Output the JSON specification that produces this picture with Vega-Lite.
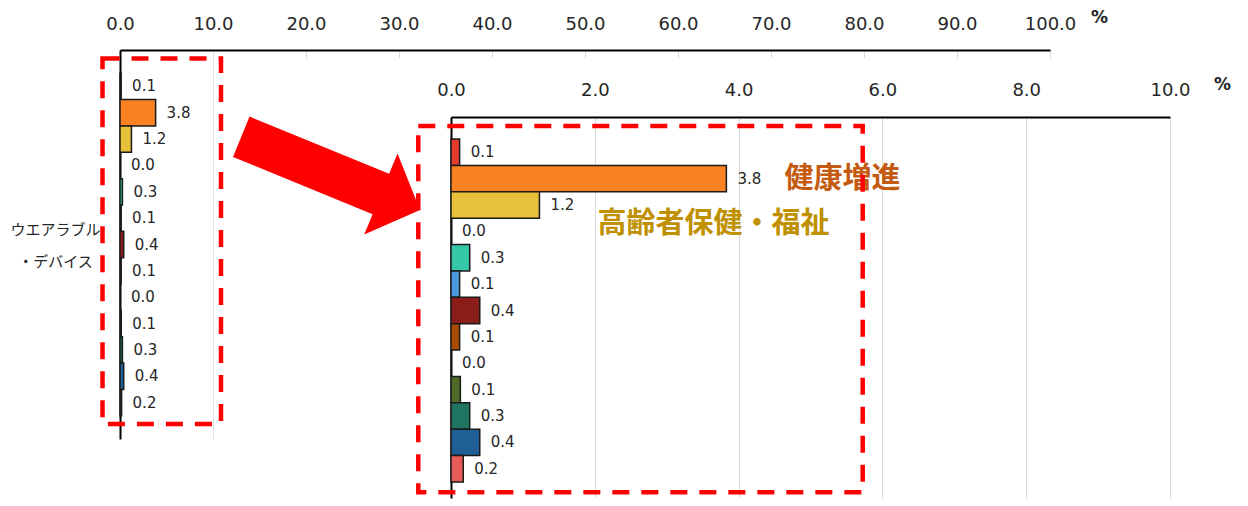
{
  "$schema": "https://vega.github.io/schema/vega-lite/v6.json",
  "width": 1050,
  "height": 448,
  "padding": {"left": 120, "top": 50, "right": 78, "bottom": 8},
  "autosize": {"type": "none"},
  "background": "white",
  "config": {"view": {"stroke": null}, "font": "DejaVu Sans"},
  "datasets": {
    "rows": [
      {"cat": "ウエアラブル・デバイス", "series": "分野01", "value": 0.12},
      {"cat": "ウエアラブル・デバイス", "series": "健康増進", "value": 3.83},
      {"cat": "ウエアラブル・デバイス", "series": "高齢者保健・福祉", "value": 1.23},
      {"cat": "ウエアラブル・デバイス", "series": "分野04", "value": 0.0},
      {"cat": "ウエアラブル・デバイス", "series": "分野05", "value": 0.26},
      {"cat": "ウエアラブル・デバイス", "series": "分野06", "value": 0.12},
      {"cat": "ウエアラブル・デバイス", "series": "分野07", "value": 0.40},
      {"cat": "ウエアラブル・デバイス", "series": "分野08", "value": 0.12},
      {"cat": "ウエアラブル・デバイス", "series": "分野09", "value": 0.0},
      {"cat": "ウエアラブル・デバイス", "series": "分野10", "value": 0.13},
      {"cat": "ウエアラブル・デバイス", "series": "分野11", "value": 0.26},
      {"cat": "ウエアラブル・デバイス", "series": "分野12", "value": 0.40},
      {"cat": "ウエアラブル・デバイス", "series": "分野13", "value": 0.17}
    ],
    "frames": [
      {"panel": "left", "x0": -1.88, "x1": 10.86, "y0": -0.55, "y1": 13.32},
      {"panel": "right", "x0": -0.455, "x1": 5.726, "y0": -0.49, "y1": 13.39}
    ],
    "arrows": [
      {"x": 22.65, "y": 3.81}
    ]
  },
  "layer": [
    {
      "data": {"name": "rows"},
      "mark": {"type": "bar", "stroke": "#1a1a1a", "strokeWidth": 1.5},
      "encoding": {
        "x": {
          "field": "value", "type": "quantitative",
          "scale": {"domain": [0, 100], "range": [0, 930], "nice": false, "zero": true},
          "axis": {
            "orient": "top", "values": [0, 10, 20, 30, 40, 50, 60, 70, 80, 90, 100], "format": ".1f",
            "labelFontSize": 18, "labelColor": "#262626", "labelPadding": 17,
            "labelFlush": false, "labelOverlap": false,
            "ticks": false, "tickSize": 0,
            "domainColor": "#000000", "domainWidth": 2,
            "grid": true, "gridColor": "#D9D9D9", "gridWidth": 1,
            "gridDash": {"condition": {"test": "datum.value > 10", "value": [8, 2000]}, "value": [1, 0]},
            "title": "%", "titleX": 979, "titleY": -33, "titleAngle": 0,
            "titleAlign": "center", "titleBaseline": "middle",
            "titleFontSize": 17, "titleFontWeight": "bold", "titleColor": "#262626"
          }
        },
        "y": {
          "field": "cat", "type": "nominal",
          "scale": {"type": "band", "range": [0, 389], "paddingInner": 0, "paddingOuter": 0.0679, "align": 0.5},
          "axis": {
            "orient": "left", "title": null, "ticks": false, "tickSize": 0,
            "labelPadding": 65, "labelAlign": "center", "labelBaseline": "middle", "labelOffset": -15,
            "labelFont": "Noto Sans CJK JP", "labelFontSize": 15, "labelColor": "#262626",
            "labelLineHeight": 32, "labelLimit": 300,
            "labelExpr": "[substring(datum.label, 0, 6), substring(datum.label, 6)]",
            "domainColor": "#000000", "domainWidth": 2, "grid": false
          }
        },
        "yOffset": {"field": "series", "type": "nominal", "sort": null, "scale": {"type": "band", "paddingInner": 0, "paddingOuter": 0}},
        "color": {
          "field": "series", "type": "nominal", "sort": null, "legend": null,
          "scale": {
            "domain": ["分野01", "健康増進", "高齢者保健・福祉", "分野04", "分野05", "分野06", "分野07", "分野08", "分野09", "分野10", "分野11", "分野12", "分野13"],
            "range": ["#E33B2E", "#FC8120", "#E8C13A", "#9DC3E6", "#35C8A8", "#4A9BDE", "#8A1C19", "#A94C03", "#7F7F7F", "#4F6B2A", "#1F7561", "#205E96", "#E95B57"]
          }
        }
      }
    },
    {
      "data": {"name": "rows"},
      "mark": {"type": "text", "align": "left", "baseline": "middle", "dx": 11, "fontSize": 15, "color": "#262626"},
      "encoding": {
        "x": {"field": "value", "type": "quantitative", "scale": {"domain": [0, 100], "range": [0, 930], "nice": false, "zero": true}, "axis": null},
        "y": {"field": "cat", "type": "nominal", "scale": {"type": "band", "range": [0, 389], "paddingInner": 0, "paddingOuter": 0.0679, "align": 0.5}, "axis": null},
        "yOffset": {"field": "series", "type": "nominal", "sort": null, "scale": {"type": "band", "paddingInner": 0, "paddingOuter": 0}},
        "text": {"field": "value", "type": "quantitative", "format": ".1f"}
      }
    },
    {
      "data": {"name": "frames"},
      "transform": [{"filter": "datum.panel === 'left'"}],
      "mark": {"type": "rect", "filled": false, "color": "#FF0000", "strokeWidth": 4.5, "strokeDash": [17, 12]},
      "encoding": {
        "x": {"field": "x0", "type": "quantitative", "scale": {"domain": [0, 100], "range": [0, 930], "nice": false, "zero": true}, "axis": null},
        "x2": {"field": "x1"},
        "y": {"field": "y0", "type": "quantitative", "scale": {"domain": [0, 13], "range": [23, 365.5], "nice": false, "zero": false}, "axis": null},
        "y2": {"field": "y1"}
      }
    },
    {
      "data": {"name": "arrows"},
      "mark": {
        "type": "point", "filled": true, "color": "#FF0000", "opacity": 1, "strokeWidth": 0,
        "shape": "M -1 -0.2257 L 0.562 -0.2257 L 0.562 -0.454 L 1 0 L 0.562 0.454 L 0.562 0.2257 L -1 0.2257 Z",
        "size": 37326, "angle": 22.3
      },
      "encoding": {
        "x": {"field": "x", "type": "quantitative", "scale": {"domain": [0, 100], "range": [0, 930], "nice": false, "zero": true}, "axis": null},
        "y": {"field": "y", "type": "quantitative", "scale": {"domain": [0, 13], "range": [23, 365.5], "nice": false, "zero": false}, "axis": null}
      }
    },
    {
      "data": {"name": "rows"},
      "mark": {"type": "bar", "stroke": "#1a1a1a", "strokeWidth": 1.5},
      "encoding": {
        "x": {
          "field": "value", "type": "quantitative",
          "scale": {"domain": [0, 10], "range": [331, 1050], "nice": false, "zero": true},
          "axis": {
            "orient": "top", "offset": -67, "values": [0, 2, 4, 6, 8, 10], "format": ".1f",
            "labelFontSize": 18, "labelColor": "#262626", "labelPadding": 18,
            "labelFlush": false, "labelOverlap": false,
            "ticks": false, "tickSize": 0,
            "domainColor": "#000000", "domainWidth": 2,
            "grid": true, "gridColor": "#D9D9D9", "gridWidth": 1,
            "title": "%", "titleX": 1102, "titleY": -33, "titleAngle": 0,
            "titleAlign": "center", "titleBaseline": "middle",
            "titleFontSize": 17, "titleFontWeight": "bold", "titleColor": "#262626"
          }
        },
        "y": {
          "field": "cat", "type": "nominal",
          "scale": {"type": "band", "range": [67, 448], "paddingInner": 0, "paddingOuter": 0.0554, "align": 0.579},
          "axis": {
            "orient": "left", "offset": -331, "title": null, "labels": false, "ticks": false, "tickSize": 0,
            "domainColor": "#000000", "domainWidth": 2, "grid": false
          }
        },
        "yOffset": {"field": "series", "type": "nominal", "sort": null, "scale": {"type": "band", "paddingInner": 0, "paddingOuter": 0}},
        "color": {"field": "series", "type": "nominal", "sort": null, "legend": null}
      }
    },
    {
      "data": {"name": "rows"},
      "mark": {"type": "text", "align": "left", "baseline": "middle", "dx": 11, "fontSize": 15, "color": "#262626"},
      "encoding": {
        "x": {"field": "value", "type": "quantitative", "scale": {"domain": [0, 10], "range": [331, 1050], "nice": false, "zero": true}, "axis": null},
        "y": {"field": "cat", "type": "nominal", "scale": {"type": "band", "range": [67, 448], "paddingInner": 0, "paddingOuter": 0.0554, "align": 0.579}, "axis": null},
        "yOffset": {"field": "series", "type": "nominal", "sort": null, "scale": {"type": "band", "paddingInner": 0, "paddingOuter": 0}},
        "text": {"field": "value", "type": "quantitative", "format": ".1f"}
      }
    },
    {
      "data": {"name": "rows"},
      "transform": [{"filter": "datum.series === '健康増進'"}],
      "mark": {"type": "text", "align": "left", "baseline": "middle", "dx": 58, "dy": 0, "font": "Noto Sans CJK JP", "fontSize": 29, "fontWeight": "bold", "color": "#C55A11"},
      "encoding": {
        "x": {"field": "value", "type": "quantitative", "scale": {"domain": [0, 10], "range": [331, 1050], "nice": false, "zero": true}, "axis": null},
        "y": {"field": "cat", "type": "nominal", "scale": {"type": "band", "range": [67, 448], "paddingInner": 0, "paddingOuter": 0.0554, "align": 0.579}, "axis": null},
        "yOffset": {"field": "series", "type": "nominal", "sort": null, "scale": {"type": "band", "domain": ["分野01", "健康増進", "高齢者保健・福祉", "分野04", "分野05", "分野06", "分野07", "分野08", "分野09", "分野10", "分野11", "分野12", "分野13"], "paddingInner": 0, "paddingOuter": 0}},
        "text": {"field": "series", "type": "nominal"}
      }
    },
    {
      "data": {"name": "rows"},
      "transform": [{"filter": "datum.series === '高齢者保健・福祉'"}],
      "mark": {"type": "text", "align": "left", "baseline": "middle", "dx": 58, "dy": 19, "font": "Noto Sans CJK JP", "fontSize": 29, "fontWeight": "bold", "color": "#BF9000"},
      "encoding": {
        "x": {"field": "value", "type": "quantitative", "scale": {"domain": [0, 10], "range": [331, 1050], "nice": false, "zero": true}, "axis": null},
        "y": {"field": "cat", "type": "nominal", "scale": {"type": "band", "range": [67, 448], "paddingInner": 0, "paddingOuter": 0.0554, "align": 0.579}, "axis": null},
        "yOffset": {"field": "series", "type": "nominal", "sort": null, "scale": {"type": "band", "domain": ["分野01", "健康増進", "高齢者保健・福祉", "分野04", "分野05", "分野06", "分野07", "分野08", "分野09", "分野10", "分野11", "分野12", "分野13"], "paddingInner": 0, "paddingOuter": 0}},
        "text": {"field": "series", "type": "nominal"}
      }
    },
    {
      "data": {"name": "frames"},
      "transform": [{"filter": "datum.panel === 'right'"}],
      "mark": {"type": "rect", "filled": false, "color": "#FF0000", "strokeWidth": 4.5, "strokeDash": [17, 12]},
      "encoding": {
        "x": {"field": "x0", "type": "quantitative", "scale": {"domain": [0, 10], "range": [331, 1050], "nice": false, "zero": true}, "axis": null},
        "x2": {"field": "x1"},
        "y": {"field": "y0", "type": "quantitative", "scale": {"domain": [0, 13], "range": [89, 432], "nice": false, "zero": false}, "axis": null},
        "y2": {"field": "y1"}
      }
    }
  ],
  "resolve": {
    "scale": {"x": "independent", "y": "independent", "yOffset": "independent"},
    "axis": {"x": "independent", "y": "independent"}
  }
}
